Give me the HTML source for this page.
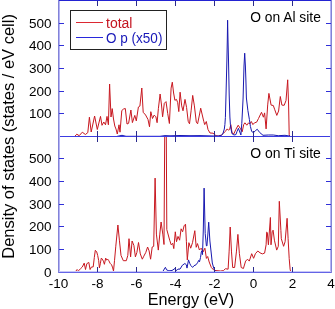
<!DOCTYPE html>
<html><head><meta charset="utf-8"><style>
html,body{margin:0;padding:0;background:#fff;}
body{width:335px;height:309px;overflow:hidden;}
svg{display:block;will-change:transform;font-family:"Liberation Sans",sans-serif;}
</style></head><body>
<svg width="335" height="309" viewBox="0 0 335 309">
<rect width="335" height="309" fill="#fff"/>
<g fill="none" stroke-linejoin="round">
<polyline points="74.5,136.6 76.8,134.2 79.2,135.7 82.3,132.2 85.4,134.5 87.8,132.6 89.4,117.2 91.2,132.0 94.6,116.0 97.3,129.5 100.5,116.4 102.0,125.3 103.8,122.0 105.5,124.8 107.0,116.4 108.4,124.8 109.6,84.0 111.0,117.0 112.2,108.6 113.5,119.0 114.8,126.0 116.0,129.0 117.3,134.0 119.0,124.8 120.0,132.2 121.8,110.5 123.6,109.0 125.3,108.5 127.0,124.0 128.6,123.3 130.9,110.0 132.4,122.6 134.8,115.4 136.3,120.9 138.4,107.0 139.9,106.1 141.8,88.0 143.2,112.3 145.6,115.0 148.0,119.5 149.5,126.8 150.8,111.7 152.5,118.5 154.2,115.1 155.9,116.8 157.1,122.7 158.4,108.4 160.1,94.0 161.5,105.0 162.6,116.8 164.3,103.3 166.0,101.6 167.7,113.4 169.4,123.5 171.1,88.1 172.3,82.2 173.6,93.0 174.9,100.3 176.5,99.4 177.7,102.7 178.8,111.6 180.1,92.2 181.7,105.9 183.0,110.8 185.0,99.4 186.6,107.6 188.2,121.3 189.5,123.8 191.1,110.8 192.7,95.4 194.4,105.9 196.3,122.1 197.6,123.8 199.6,114.0 200.7,108.2 202.5,116.0 203.8,121.5 204.7,124.6 206.3,121.5 208.0,129.5 210.0,133.0 213.0,133.2 216.0,135.7 218.5,136.0 221.6,135.0 223.5,133.2 225.3,131.4 227.2,128.9 228.4,130.2 229.6,129.5 230.8,124.6 232.1,133.2 233.9,133.8 235.8,129.5 238.2,125.2 240.6,128.9 242.2,131.8 243.7,124.6 244.9,122.8 246.8,125.2 248.6,122.8 249.8,124.0 251.3,121.5 252.9,124.6 254.5,122.8 256.6,122.2 258.5,118.5 259.7,116.0 261.5,112.3 263.4,117.2 264.6,112.9 266.1,128.9 267.7,104.9 268.9,93.4 271.1,105.1 273.3,105.5 274.8,109.8 276.8,115.4 278.6,111.0 280.3,96.5 281.9,105.1 284.2,105.3 286.0,100.5 287.7,79.8 288.6,105.0 289.2,134.5 289.8,136.3" stroke="#c81820" stroke-width="1"/>
<polyline points="117.0,136.4 122.0,135.3 126.0,136.3 160.0,136.3 165.0,135.6 170.0,135.8 180.0,135.5 190.0,135.7 200.0,135.6 210.0,135.9 218.0,136.1 221.0,135.5 222.8,134.0 224.3,129.0 224.9,124.6 225.4,117.4 226.0,95.0 226.9,60.0 227.3,40.0 227.6,20.2 228.0,40.0 228.5,60.0 229.2,95.0 229.9,117.0 230.4,124.6 231.1,129.5 232.1,133.8 234.0,135.0 235.9,134.6 237.0,131.5 238.4,128.3 239.8,132.0 240.9,135.0 241.8,123.3 242.5,110.0 243.1,98.0 243.6,80.0 244.0,66.0 244.7,53.2 245.4,66.0 245.9,80.0 246.4,98.0 247.9,110.6 249.4,119.5 250.4,126.4 251.7,131.5 253.6,132.7 255.5,130.5 257.3,129.3 259.7,132.5 263.0,135.3 268.3,135.0 273.2,135.0 278.2,135.7 285.0,135.3 290.0,136.1" stroke="#1818b0" stroke-width="1"/>
</g>
<g fill="none" stroke-linejoin="round">
<polyline points="75.2,272.0 77.1,269.5 78.4,270.8 80.4,268.9 82.3,267.0 84.2,263.1 85.5,269.5 86.8,263.7 88.8,262.4 90.1,269.5 91.4,267.0 93.2,266.9 94.3,257.6 95.3,250.3 96.7,251.9 97.7,255.5 98.7,260.7 99.4,267.9 100.3,263.8 101.3,258.1 102.3,259.1 103.4,261.2 104.4,264.3 105.7,258.1 106.7,260.2 107.7,259.1 108.8,260.7 110.1,263.3 111.6,264.8 112.7,267.9 113.5,271.0 114.5,260.7 115.8,246.2 117.9,225.0 119.4,240.2 121.0,255.4 123.3,260.7 126.3,260.7 127.8,255.4 129.0,238.7 130.6,256.9 132.1,241.0 133.9,245.5 135.4,256.9 136.9,252.4 138.5,242.5 140.3,253.9 142.3,259.2 143.8,256.2 145.8,252.4 147.6,247.0 149.1,250.9 150.6,259.2 152.2,247.0 153.7,246.3 155.1,178.1 156.4,234.1 158.3,250.1 159.8,234.1 161.1,222.0 162.8,234.1 164.0,244.5 164.7,136.5 166.3,136.5 166.8,229.6 169.7,240.2 171.2,244.8 172.7,243.3 173.8,248.6 175.3,231.8 176.5,241.7 178.0,236.4 179.6,240.2 181.1,228.8 182.6,231.8 184.1,225.8 185.5,224.2 186.4,241.7 187.3,259.9 188.9,242.7 190.7,248.2 192.5,242.7 194.8,230.7 196.2,247.3 197.5,243.6 199.4,250.0 201.2,248.2 203.1,251.9 204.9,248.2 206.4,258.4 207.7,256.5 209.2,262.0 211.4,267.6 214.1,270.4 220.6,271.0 223.5,270.6 225.4,268.7 228.1,269.2 229.1,251.9 230.2,227.0 231.5,251.9 232.7,267.5 234.6,267.5 236.4,251.9 237.9,234.4 239.4,253.7 241.2,267.5 243.4,268.5 245.6,261.1 247.5,259.2 249.3,261.1 251.7,253.7 253.6,258.3 255.4,253.7 257.8,251.0 260.0,252.8 262.3,253.9 264.6,253.1 266.1,244.8 266.7,232.1 267.3,232.6 268.4,244.8 270.4,217.5 271.0,244.8 272.2,231.8 273.1,230.2 274.4,240.2 276.7,250.1 278.3,246.3 279.3,201.3 280.9,230.5 281.3,238.7 283.6,246.3 285.1,241.7 287.1,218.3 288.1,238.7 289.2,258.5 290.1,269.1 290.7,271.8" stroke="#c81820" stroke-width="1"/>
<polyline points="162.5,272.0 165.4,267.3 166.6,269.9 168.9,270.8 172.0,270.5 175.0,268.5 176.5,270.6 178.0,269.1 180.0,269.1 182.4,265.2 184.9,263.5 186.3,264.7 187.0,268.1 188.5,259.9 189.7,263.3 190.7,265.4 192.6,267.4 194.0,265.7 196.0,264.8 197.5,262.8 198.7,260.4 199.5,261.8 200.5,257.5 201.3,252.1 202.0,250.7 202.5,254.6 203.3,230.0 204.1,188.1 205.2,233.5 206.4,245.8 206.9,246.0 207.8,235.0 208.7,222.2 209.9,241.0 211.1,252.0 212.3,263.0 213.8,268.3 215.5,271.5 225.0,271.6" stroke="#1818b0" stroke-width="1"/>
</g>
<g>
<rect x="58" y="0" width="274" height="1" fill="#2323d2"/>
<rect x="58" y="136" width="274" height="1" fill="#3c3ce1"/>
<rect x="58" y="271" width="274" height="1" fill="#c8c8f8"/>
<rect x="58" y="272" width="274" height="1" fill="#6464e6"/>
<rect x="58" y="0" width="1" height="273" fill="#8282d7"/>
<rect x="59" y="1" width="1" height="270" fill="#b4b4f5"/>
<rect x="330" y="1" width="1" height="270" fill="#b4b4f5"/>
<rect x="331" y="0" width="1" height="273" fill="#8282d7"/>
<rect x="97" y="1" width="1" height="5" fill="#2a2a8c"/>
<rect x="97" y="131" width="1" height="11" fill="#2a2a8c"/>
<rect x="97" y="267" width="1" height="5" fill="#2a2a8c"/>
<rect x="136" y="1" width="1" height="5" fill="#2a2a8c"/>
<rect x="136" y="131" width="1" height="11" fill="#2a2a8c"/>
<rect x="136" y="267" width="1" height="5" fill="#2a2a8c"/>
<rect x="175" y="1" width="1" height="5" fill="#2a2a8c"/>
<rect x="175" y="131" width="1" height="11" fill="#2a2a8c"/>
<rect x="175" y="267" width="1" height="5" fill="#2a2a8c"/>
<rect x="214" y="1" width="1" height="5" fill="#2a2a8c"/>
<rect x="214" y="131" width="1" height="11" fill="#2a2a8c"/>
<rect x="214" y="267" width="1" height="5" fill="#2a2a8c"/>
<rect x="253" y="1" width="1" height="5" fill="#2a2a8c"/>
<rect x="253" y="131" width="1" height="11" fill="#2a2a8c"/>
<rect x="253" y="267" width="1" height="5" fill="#2a2a8c"/>
<rect x="292" y="1" width="1" height="5" fill="#2a2a8c"/>
<rect x="292" y="131" width="1" height="11" fill="#2a2a8c"/>
<rect x="292" y="267" width="1" height="5" fill="#2a2a8c"/>
<rect x="59" y="23" width="5" height="1" fill="#3030d8"/>
<rect x="326" y="23" width="5" height="1" fill="#3030d8"/>
<rect x="59" y="45" width="5" height="1" fill="#3030d8"/>
<rect x="326" y="45" width="5" height="1" fill="#3030d8"/>
<rect x="59" y="68" width="5" height="1" fill="#3030d8"/>
<rect x="326" y="68" width="5" height="1" fill="#3030d8"/>
<rect x="59" y="91" width="5" height="1" fill="#3030d8"/>
<rect x="326" y="91" width="5" height="1" fill="#3030d8"/>
<rect x="59" y="113" width="5" height="1" fill="#3030d8"/>
<rect x="326" y="113" width="5" height="1" fill="#3030d8"/>
<rect x="59" y="158" width="5" height="1" fill="#3030d8"/>
<rect x="326" y="158" width="5" height="1" fill="#3030d8"/>
<rect x="59" y="181" width="5" height="1" fill="#3030d8"/>
<rect x="326" y="181" width="5" height="1" fill="#3030d8"/>
<rect x="59" y="204" width="5" height="1" fill="#3030d8"/>
<rect x="326" y="204" width="5" height="1" fill="#3030d8"/>
<rect x="59" y="226" width="5" height="1" fill="#3030d8"/>
<rect x="326" y="226" width="5" height="1" fill="#3030d8"/>
<rect x="59" y="249" width="5" height="1" fill="#3030d8"/>
<rect x="326" y="249" width="5" height="1" fill="#3030d8"/>
</g>
<rect x="70.5" y="10.5" width="96" height="39" fill="#fff" stroke="#222" stroke-width="1"/>
<line x1="76" y1="22.5" x2="103" y2="22.5" stroke="#dc2832" stroke-width="1"/>
<line x1="76" y1="37.5" x2="103" y2="37.5" stroke="#2828dc" stroke-width="1"/>
<g font-size="14">
<text x="106" y="27.8" fill="#c41420">total</text>
<text x="106" y="43.2" fill="#1818b8" textLength="56.4" lengthAdjust="spacingAndGlyphs">O p (x50)</text>
</g>
<g font-size="15" fill="#000">
<text x="250.2" y="21.8" textLength="70.7" lengthAdjust="spacingAndGlyphs">O on Al site</text>
<text x="250.2" y="158.2" textLength="70.7" lengthAdjust="spacingAndGlyphs">O on Ti site</text>
</g>
<g font-size="13.5" fill="#000">
<text x="51.5" y="28.30" text-anchor="end">500</text>
<text x="51.5" y="50.30" text-anchor="end">400</text>
<text x="51.5" y="73.30" text-anchor="end">300</text>
<text x="51.5" y="96.30" text-anchor="end">200</text>
<text x="51.5" y="118.30" text-anchor="end">100</text>
<text x="51.5" y="163.30" text-anchor="end">500</text>
<text x="51.5" y="186.30" text-anchor="end">400</text>
<text x="51.5" y="209.30" text-anchor="end">300</text>
<text x="51.5" y="231.30" text-anchor="end">200</text>
<text x="51.5" y="254.30" text-anchor="end">100</text>
<text x="51.5" y="276.80" text-anchor="end">0</text>
<text x="58.50" y="288.1" text-anchor="middle">-10</text>
<text x="97.50" y="288.1" text-anchor="middle">-8</text>
<text x="136.50" y="288.1" text-anchor="middle">-6</text>
<text x="175.50" y="288.1" text-anchor="middle">-4</text>
<text x="214.50" y="288.1" text-anchor="middle">-2</text>
<text x="253.50" y="288.1" text-anchor="middle">0</text>
<text x="292.50" y="288.1" text-anchor="middle">2</text>
<text x="331.00" y="288.1" text-anchor="middle">4</text>
</g>
<text x="191" y="305.3" font-size="16.6" text-anchor="middle" fill="#000" textLength="86.5" lengthAdjust="spacingAndGlyphs">Energy (eV)</text>
<text transform="translate(14.1,136.4) rotate(-90)" font-size="16.4" text-anchor="middle" fill="#000" textLength="244.6" lengthAdjust="spacingAndGlyphs">Density of states (states / eV cell)</text>
</svg>
</body></html>
